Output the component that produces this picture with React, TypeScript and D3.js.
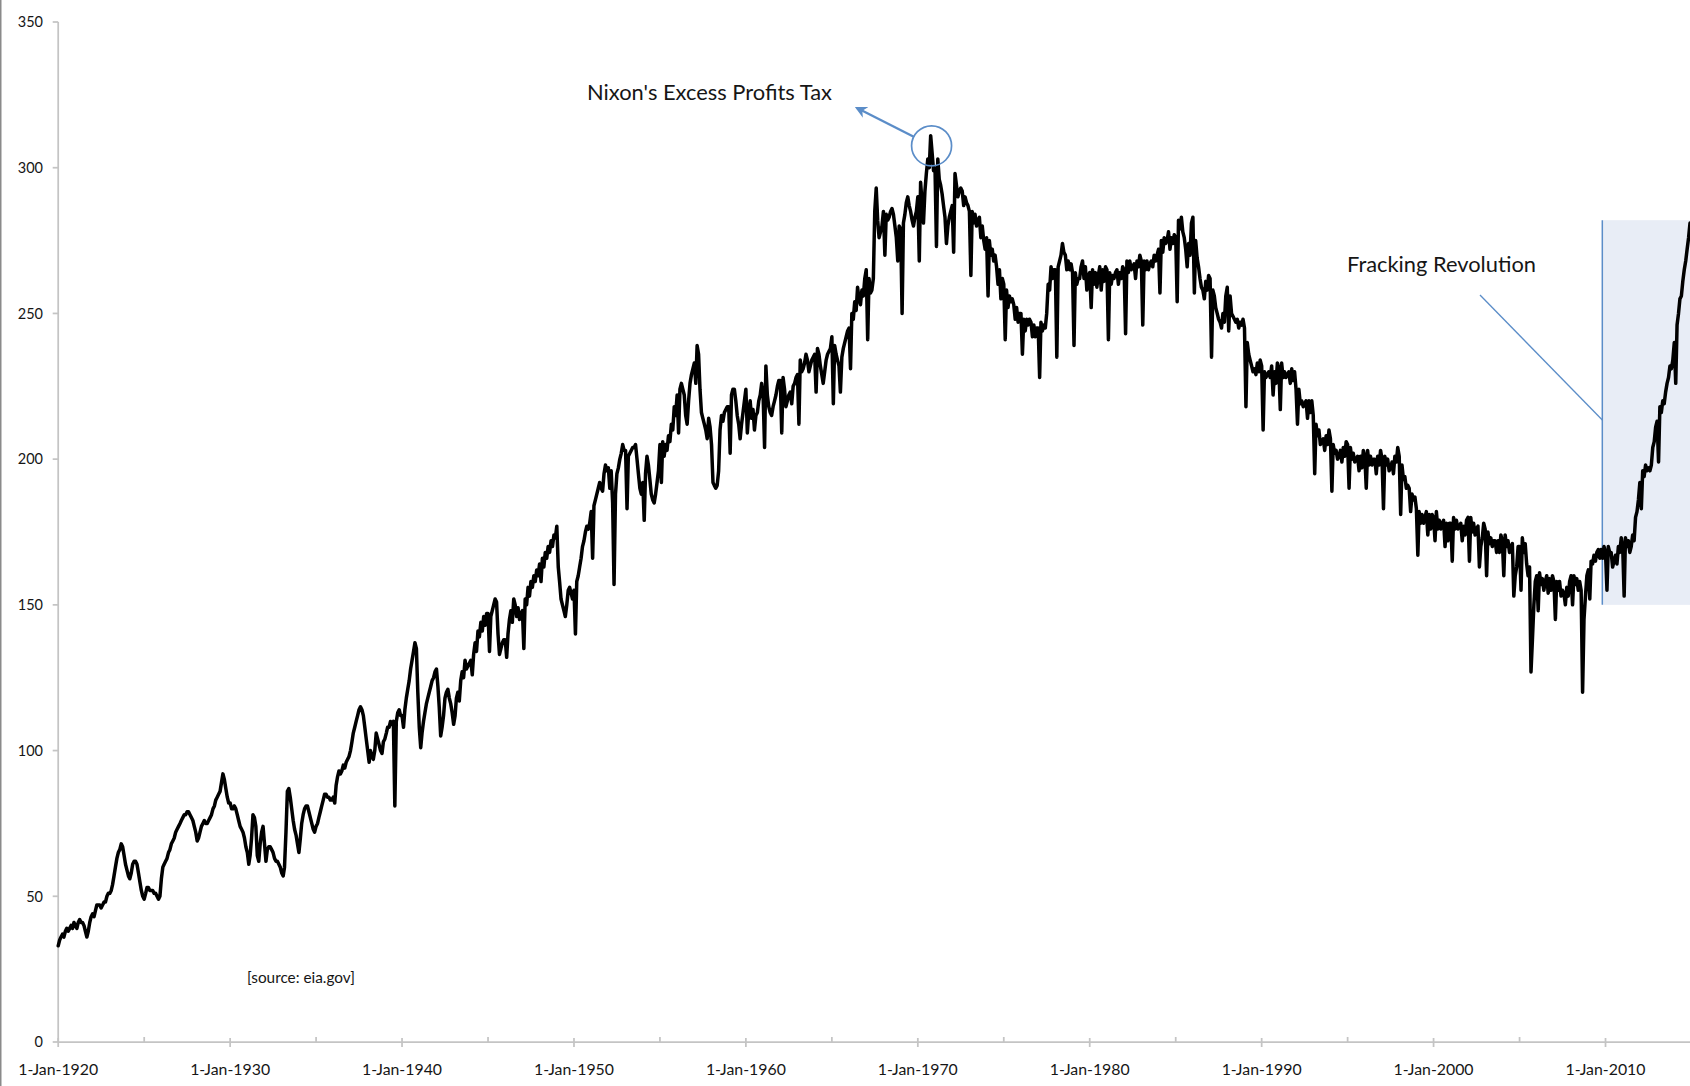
import React from "react";
import * as d3 from "d3";

// Monthly US crude oil field production (million barrels / month)
const output1920s = [
  33, 35, 36, 37, 36, 38, 39, 38, 39, 40, 39, 41,
  40, 39, 41, 42, 41, 41, 40, 38, 36, 38, 41, 43,
  44, 43, 45, 47, 47, 47, 46, 47, 48, 48, 50, 51,
  51, 52, 54, 57, 60, 63, 65, 66, 68, 67, 64, 61,
  59, 57, 56, 58, 61, 62, 62, 61, 58, 55, 52, 50,
  49, 51, 53, 53, 52, 52, 52, 51, 51, 50, 49, 50,
  56, 60, 61, 62, 63, 65, 66, 68, 69, 70, 72, 73,
  74, 75, 76, 77, 78, 78, 79, 79, 78, 77, 76, 74,
  72, 69, 70, 72, 74, 75, 76, 75, 75, 76, 77, 78,
  80, 81, 83, 84, 85, 86, 89, 92, 90, 87, 84, 82,
];
const output1930s = [
  82, 80, 80, 81, 80, 78, 76, 74, 73, 72, 70, 67,
  65, 61, 64, 70, 78, 77, 74, 64, 62, 68, 72, 74,
  68, 62, 66, 67, 67, 66, 65, 63, 62, 62, 61, 60,
  58, 57, 60, 72, 86, 87, 84, 80, 76, 73, 71, 68,
  65, 70, 75, 78, 80, 81, 81, 79, 77, 75, 73, 72,
  74, 75, 77, 79, 81, 83, 85, 85, 84, 84, 83, 83,
  84, 82, 88, 91, 93, 92, 93, 95, 94, 96, 97, 98,
  100, 103, 106, 108, 110, 112, 114, 115, 114, 112, 108, 104,
  100, 96, 100, 98, 97, 100, 106, 104, 102, 100, 99, 103,
  104, 106, 108, 108, 110, 109, 110, 81, 110, 113, 114, 112,
];
const output1940s = [
  112, 108, 114, 118, 121, 124, 128, 131, 134, 137, 135, 120,
  108, 101, 106, 110, 113, 116, 118, 120, 122, 124, 125, 127,
  128, 122, 115, 105, 108, 112, 118, 120, 121, 118, 116, 113,
  109, 112, 118, 120, 117, 124, 127, 125, 131, 128, 129, 130,
  131, 126, 133, 137, 134, 141, 139, 144, 141, 146, 143, 147,
  147, 134, 146, 148, 150, 152, 151, 140, 133, 135, 137, 138,
  138, 132, 140, 145, 148, 144, 152, 150, 146, 149, 145, 147,
  148, 135, 152, 150, 156, 153, 158, 156, 160, 158, 162, 160,
  164, 158, 166, 163, 168, 166, 170, 168, 172, 170, 174, 173,
  177, 163, 158, 152, 150, 148, 146, 150, 155, 156, 154, 152,
];
const output1950s = [
  155, 140, 158, 160, 163, 166, 170, 172, 175, 177, 176, 178,
  182, 166, 184, 186, 188, 190, 192, 190, 189, 195, 198, 196,
  197, 190, 196, 185, 157, 188, 195, 197, 200, 202, 205, 203,
  203, 183, 201, 202, 203, 204, 204, 205, 200, 195, 190, 188,
  192, 179, 195, 201, 198, 193, 188, 186, 185, 188, 192, 196,
  205, 192, 206, 201, 205, 203, 208, 206, 212, 210, 218, 215,
  222, 209, 224, 226, 224, 222, 215, 212, 220, 226, 229, 231,
  233, 226, 239, 236, 224, 216, 214, 212, 210, 207, 214, 211,
  205, 192, 191, 190, 191, 196, 210, 215, 213, 216, 217, 218,
  218, 202, 222, 224, 224, 220, 215, 212, 207, 212, 216, 220,
];
const output1960s = [
  224, 209, 216, 220, 214, 217, 210, 215, 216, 220, 222, 226,
  222, 204, 232, 222, 218, 216, 215, 218, 220, 222, 225, 227,
  227, 209, 228, 224, 218, 220, 222, 223, 219, 225, 226, 228,
  229, 212, 234, 230, 231, 233, 236, 234, 230, 232, 234, 235,
  236, 223, 238, 236, 232, 229, 226, 230, 234, 236, 237, 238,
  242, 219, 239, 236, 234, 232, 223, 235, 238, 240, 242, 244,
  245, 231, 250, 248, 254, 251, 259, 255, 253, 258, 256, 262,
  265, 241, 262, 257, 258, 262, 285, 293, 282, 276, 278, 280,
  285, 270, 284, 282, 283, 285, 286, 284, 280, 276, 268, 280,
  279, 250, 281, 284, 288, 290, 287, 285, 282, 280, 283, 285,
];
const output1970s = [
  290, 268, 295, 288, 281, 292, 298, 303, 300, 311, 305, 299,
  300, 273, 303, 296, 294, 291, 287, 283, 274, 280, 283, 285,
  287, 271, 298, 294, 290, 292, 293, 292, 287, 290, 288, 287,
  285, 263, 285, 281, 284, 280, 282, 283, 276, 280, 275, 272,
  276, 256, 275, 270, 272, 268, 270, 266, 260, 265, 255, 262,
  260, 241, 258, 252, 256, 254, 255, 253, 248, 252, 247, 250,
  250, 236, 248, 244, 248, 246, 248, 247, 242, 246, 242, 245,
  245, 228, 247, 244, 246, 245, 250, 260, 258, 266, 262, 265,
  265, 235, 266, 268, 270, 274, 271, 270, 265, 268, 265, 267,
  264, 239, 264, 260, 262, 262, 266, 268, 262, 266, 258, 263,
];
const output1980s = [
  264, 252, 265, 260, 264, 259, 263, 266, 258, 265, 261, 266,
  265, 241, 264, 260, 263, 262, 264, 265, 260, 264, 262, 266,
  265, 243, 268, 264, 268, 265, 266, 267, 262, 268, 266, 270,
  268, 246, 268, 265, 268, 265, 267, 268, 266, 270, 268, 270,
  272, 257, 275, 271, 276, 274, 275, 278, 272, 276, 274, 277,
  276, 254, 282, 279, 283, 278, 276, 272, 266, 274, 270, 281,
  283, 257, 275, 269, 266, 262, 259, 258, 255, 261, 258, 263,
  262, 235, 258, 256, 252, 250, 248, 247, 245, 250, 247, 256,
  259, 244, 256, 250, 249, 248, 247, 248, 245, 247, 246, 248,
  245, 218, 240, 236, 234, 232, 230, 231, 229, 233, 230, 234,
];
const output1990s = [
  232, 210, 230, 228, 229, 230, 228, 232, 222, 230, 226, 233,
  231, 217, 233, 228, 230, 228, 229, 230, 226, 231, 227, 230,
  224, 212, 224, 219, 220, 218, 219, 220, 214, 220, 216, 220,
  215, 195, 212, 208, 210, 205, 206, 207, 203, 208, 205, 210,
  207, 189, 205, 202, 203, 200, 201, 203, 199, 204, 201, 206,
  205, 190, 204, 200, 202, 199, 200, 201, 196, 201, 197, 203,
  201, 190, 203, 198, 201, 198, 200, 200, 195, 201, 198, 203,
  200, 183, 201, 198, 200, 196, 197, 199, 195, 201, 199, 204,
  201, 181, 198, 193, 194, 190, 191, 190, 182, 188, 186, 187,
  183, 167, 182, 178, 181, 178, 180, 182, 174, 181, 176, 181,
];
const output2000s = [
  180, 172, 182, 176, 179, 176, 178, 179, 170, 178, 172, 178,
  178, 165, 180, 176, 179, 176, 177, 178, 172, 177, 174, 179,
  180, 165, 180, 175, 178, 174, 176, 177, 163, 170, 173, 178,
  176, 160, 175, 171, 173, 170, 172, 172, 168, 172, 168, 174,
  172, 160, 174, 170, 172, 168, 170, 171, 153, 160, 163, 170,
  170, 155, 173, 168, 171, 164, 160, 163, 127, 138, 150, 158,
  160, 148, 161, 157, 159, 155, 158, 160, 154, 159, 155, 160,
  158, 145, 158, 155, 158, 153, 155, 154, 150, 156, 153, 158,
  160, 150, 160, 157, 159, 155, 158, 155, 120, 145, 153, 160,
  162, 152, 165, 164, 167, 165, 168, 169, 166, 169, 166, 170,
];
const output2010s = [
  168, 155, 170, 168, 168, 163, 165, 167, 164, 170, 168, 173,
  170, 153, 173, 170, 172, 168, 170, 174, 172, 180, 182, 186,
  192, 183, 196, 194, 198, 196, 197, 196, 198, 204, 206, 211,
  213, 199, 218, 216, 220, 219, 223, 226, 228, 232, 231, 234,
  240, 226, 246, 250, 255, 256, 261, 265, 268, 272, 276, 281,
];

const decadeStarts = [1920, 1930, 1940, 1950, 1960, 1970, 1980, 1990, 2000, 2010];
const decadeOutputs = [
  output1920s, output1930s, output1940s, output1950s, output1960s,
  output1970s, output1980s, output1990s, output2000s, output2010s,
];

const xTickYears = [1920, 1930, 1940, 1950, 1960, 1970, 1980, 1990, 2000, 2010];
const xMinorYears = [1925, 1935, 1945, 1955, 1965, 1975, 1985, 1995, 2005];
const yTicks = [0, 50, 100, 150, 200, 250, 300, 350];

const nixonLabel = "Nixon's Excess Profits Tax";
const frackingLabel = "Fracking Revolution";
const sourceNote = "[source: eia.gov]";

// annotation anchors in data terms
const nixonPeak = { date: new Date(1970, 9, 20), value: 307.5 };
const frackingStart = new Date(2009, 9, 25);
const frackingTop = 282;
const frackingBottom = 150;

type Pt = { date: Date; value: number };

const series: Pt[] = decadeStarts.flatMap((start, di) =>
  decadeOutputs[di].map((v, i) => ({
    date: new Date(start + Math.floor(i / 12), i % 12, 1),
    value: v,
  }))
);

const W = 1690;
const H = 1086;
const FONT = "Lato, 'Open Sans', 'DejaVu Sans', sans-serif";
const AXIS = "#c4c4c4";
const BLUE = "#5b8dc8";
const TEXT = "#161616";

export default function App() {
  const x = d3
    .scaleTime()
    .domain([new Date(1920, 0, 1), new Date(2014, 11, 1)])
    .range([58.2, 1690]);
  const y = d3.scaleLinear().domain([0, 350]).range([1042, 22]);

  const line = d3
    .line<Pt>()
    .x((d) => x(d.date))
    .y((d) => y(d.value));

  const x0 = x.range()[0];
  const y0 = y(0);

  const cx = x(nixonPeak.date);
  const cy = y(nixonPeak.value);
  const r = 20;
  const arrowEnd = [857, 108];
  const ang = Math.atan2(arrowEnd[1] - cy, arrowEnd[0] - cx);
  const arrowStart = [cx + r * Math.cos(ang), cy + r * Math.sin(ang)];

  const fx = x(frackingStart);

  return (
    <svg
      width={W}
      height={H}
      style={{ position: "absolute", left: 0, top: 0, background: "#fff" }}
    >
      <defs>
        <marker
          id="arrowHead"
          viewBox="0 0 10 10"
          refX="8"
          refY="5"
          markerWidth="5"
          markerHeight="5"
          orient="auto-start-reverse"
          markerUnits="strokeWidth"
        >
          <path d="M0,0 L10,5 L0,10 L3,5 z" fill={BLUE} />
        </marker>
      </defs>
      <rect x={0} y={0} width={W} height={H} fill="#fff" />
      <line x1={0.75} x2={0.75} y1={0} y2={H} stroke="#8a8a8a" strokeWidth={1.5} />

      {/* fracking shaded region */}
      <rect
        x={fx}
        y={y(frackingTop)}
        width={W - fx}
        height={y(frackingBottom) - y(frackingTop)}
        fill="#e8edf6"
      />
      <line
        x1={fx}
        x2={fx}
        y1={y(frackingTop)}
        y2={y(frackingBottom)}
        stroke={BLUE}
        strokeWidth={1.5}
      />

      {/* axes */}
      <line x1={x0} x2={x0} y1={y(350)} y2={y0} stroke={AXIS} strokeWidth={1.75} />
      <line x1={x0} x2={W} y1={y0} y2={y0} stroke={AXIS} strokeWidth={1.75} />
      {yTicks.map((t) => (
        <g key={"y" + t}>
          <line x1={x0 - 5.5} x2={x0} y1={y(t)} y2={y(t)} stroke={AXIS} strokeWidth={1.75} />
          <text
            x={43}
            y={y(t)}
            dy="0.36em"
            textAnchor="end"
            fontFamily={FONT}
            fontSize={14.5}
            fill={TEXT}
          >
            {t}
          </text>
        </g>
      ))}
      {xTickYears.map((yr) => {
        const px = x(new Date(yr, 0, 1));
        return (
          <g key={"x" + yr}>
            <line x1={px} x2={px} y1={y0 - 4} y2={y0 + 5} stroke={AXIS} strokeWidth={1.75} />
            <text
              x={px}
              y={1075}
              textAnchor="middle"
              fontFamily={FONT}
              fontSize={16}
              textLength={80}
              lengthAdjust="spacingAndGlyphs"
              fill={TEXT}
            >
              {"1-Jan-" + yr}
            </text>
          </g>
        );
      })}
      {xMinorYears.map((yr) => {
        const px = x(new Date(yr, 0, 1));
        return (
          <line key={"m" + yr} x1={px} x2={px} y1={y0 - 5} y2={y0} stroke={AXIS} strokeWidth={1.75} />
        );
      })}

      {/* data line */}
      <path
        d={line(series) || ""}
        fill="none"
        stroke="#000"
        strokeWidth={3.5}
        strokeLinejoin="round"
        strokeLinecap="round"
      />

      {/* Nixon annotation */}
      <circle cx={cx} cy={cy} r={r} fill="none" stroke={BLUE} strokeWidth={1.7} />
      <line
        x1={arrowStart[0]}
        y1={arrowStart[1]}
        x2={arrowEnd[0]}
        y2={arrowEnd[1]}
        stroke={BLUE}
        strokeWidth={2.4}
        markerEnd="url(#arrowHead)"
      />
      <text
        x={587}
        y={100}
        fontFamily={FONT}
        fontSize={22}
        textLength={245}
        lengthAdjust="spacingAndGlyphs"
        fill={TEXT}
      >
        {nixonLabel}
      </text>

      {/* Fracking annotation */}
      <text
        x={1347}
        y={272}
        fontFamily={FONT}
        fontSize={22}
        textLength={189}
        lengthAdjust="spacingAndGlyphs"
        fill={TEXT}
      >
        {frackingLabel}
      </text>
      <line x1={1480} y1={295} x2={fx} y2={420} stroke={BLUE} strokeWidth={1.3} />

      <text
        x={247}
        y={983}
        fontFamily={FONT}
        fontSize={15}
        textLength={108}
        lengthAdjust="spacingAndGlyphs"
        fill={TEXT}
      >
        {sourceNote}
      </text>
    </svg>
  );
}
